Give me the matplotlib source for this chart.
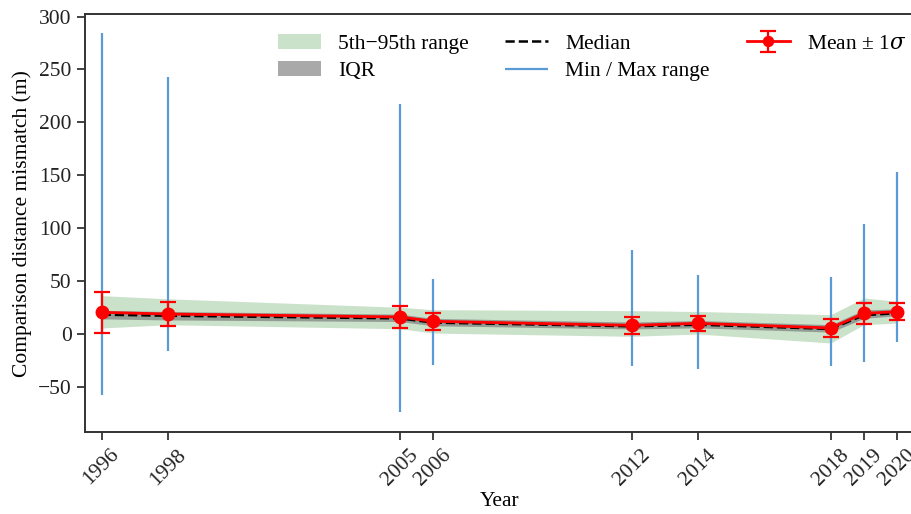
import numpy as np
import matplotlib
matplotlib.use("Agg")
import matplotlib.pyplot as plt

# values
years = [1996, 1998, 2005, 2006, 2012, 2014, 2018, 2019, 2020]
mean = [20.2, 18.6, 15.8, 11.7, 7.9, 9.8, 5.4, 19.2, 20.8]
std = [19.5, 11.7, 10.0, 8.2, 8.0, 7.1, 8.2, 9.6, 8.0]
median = [18.0, 17.0, 14.5, 10.5, 7.0, 8.5, 4.5, 17.5, 19.5]
q25 = [14.0, 13.0, 11.5, 7.5, 4.5, 5.5, 1.5, 14.5, 17.0]
q75 = [22.0, 21.0, 18.5, 14.5, 11.0, 12.5, 8.5, 22.5, 23.5]
p05 = [5.4, 8.5, 4.7, 0.6, -2.5, -0.3, -8.8, 8.5, 10.0]
p95 = [36.0, 33.0, 25.0, 22.7, 21.8, 21.0, 18.0, 33.8, 30.6]
vmin = [-58, -16, -74, -30, -31, -33, -31, -27, -8]
vmax = [284, 243, 217, 52, 79.5, 55.8, 53.6, 104, 153]

plt.rcParams["font.family"] = ["Liberation Serif", "DejaVu Serif"]
plt.rcParams["font.size"] = 15.5
plt.rcParams["mathtext.fontset"] = "custom"
plt.rcParams["mathtext.rm"] = "Liberation Serif"
plt.rcParams["mathtext.it"] = "DejaVu Serif:italic"

fig = plt.figure(figsize=(9.12, 5.14), dpi=100)
ax = fig.add_axes([0.0932, 0.1595, 0.9086, 0.8125])

ax.fill_between(years, p05, p95, color="#2e8b2e", alpha=0.25, lw=0,
                label="5th\u221295th range")
ax.fill_between(years, q25, q75, color="#707070", alpha=0.6, lw=0,
                label="IQR")
ax.plot(years, median, ls="--", color="black", lw=1.8, label="Median")
ax.vlines(years, vmin, vmax, color="#5b9bd5", lw=1.6,
          label="Min / Max range")
ax.errorbar(years, mean, yerr=std, color="red", lw=2, marker="o", ms=9,
            capsize=6, capthick=1.6, elinewidth=1.6,
            label="Mean \u00b1 1$\\sigma$")

ax.set_xlim(1995.5, 2020.5)
ax.set_ylim(-93, 302)
ax.set_xticks(years)
ax.set_xticklabels([str(y) for y in years], rotation=45)
ax.set_yticks(np.arange(-50, 301, 50))
ax.tick_params(direction="out", length=6, width=1.2, colors="#222222")
for s in ax.spines.values():
    s.set_linewidth(1.4)
    s.set_color("#333333")

ax.set_xlabel("Year", labelpad=2)
ax.set_ylabel("Comparison distance mismatch (m)")

ax.legend(ncol=3, loc="upper left", bbox_to_anchor=(0.209, 1.0),
          frameon=False, handlelength=2.0, columnspacing=1.7,
          borderaxespad=0.5, labelspacing=0.35, markerscale=0.8)

fig.savefig("out.png", dpi=100)
